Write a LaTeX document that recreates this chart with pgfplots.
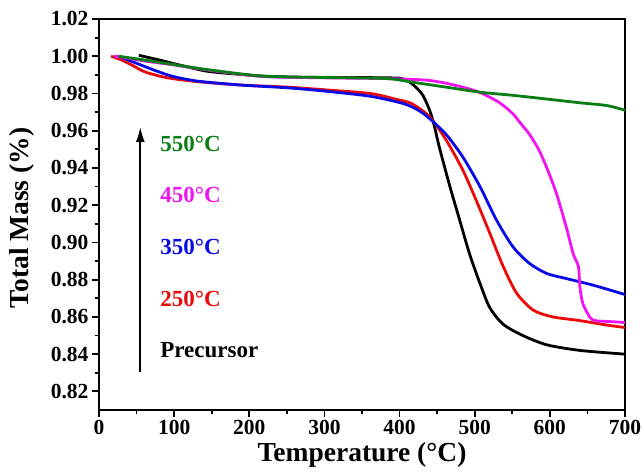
\documentclass[border=0pt]{standalone}
\usepackage{fontspec}
\setmainfont{Liberation Serif}
\usepackage{pgfplots}
\pgfplotsset{compat=1.18}
\usetikzlibrary{arrows.meta}

\definecolor{tgagreen}{RGB}{10,125,20}
\definecolor{tgamag}{RGB}{240,20,240}
\definecolor{tgablue}{RGB}{10,10,230}
\definecolor{tgared}{RGB}{235,10,10}

\begin{document}
\begin{tikzpicture}
\begin{axis}[
  scale only axis,
  width=526pt, height=391pt,
  xmin=0, xmax=700,
  ymin=0.81, ymax=1.02,
  xtick={0,100,...,700},
  ytick={0.82,0.84,...,1.021},
  minor x tick num=1,
  minor y tick num=1,
  tick align=outside,
  xtick pos=left, ytick pos=left,
  major tick length=7pt,
  minor tick length=4pt,
  every tick/.style={black, line width=1.8pt},
  axis line style={line width=2.2pt},
  /pgf/number format/assume math mode=true,
  ticklabel style={font=\fontsize{21.5}{21.5}\selectfont\bfseries},
  yticklabel style={/pgf/number format/.cd, fixed, fixed zerofill, precision=2},
  xticklabel style={/pgf/number format/.cd, fixed, precision=0},
  xlabel={Temperature (°C)},
  ylabel={Total Mass (\%)},
  label style={font=\fontsize{27.5}{27.5}\selectfont\bfseries},
  xlabel style={at={(axis description cs:0.5,-0.1151)}, anchor=center},
  ylabel style={at={(axis description cs:-0.1464,0.491)}, anchor=center},
  every axis plot/.append style={line width=2.8pt, no markers, smooth, tension=0.45},
  clip=false,
]
% Precursor
\addplot[black] coordinates {
  (53,1.0005) (80,0.998) (110,0.995) (143,0.992) (180,0.9905) (219,0.9893)
  (260,0.9888) (300,0.9886) (340,0.9886) (383,0.9884) (400,0.9882) (410,0.987)
  (420,0.984) (431,0.979) (440,0.971) (446,0.963) (453,0.951) (467,0.930)
  (480,0.912) (493,0.894) (507,0.878) (520,0.865) (538,0.856) (564,0.850)
  (596,0.845) (640,0.842) (700,0.840)};
% 250 C
\addplot[tgared] coordinates {
  (16,1.000) (30,0.998) (45,0.995) (61,0.9916) (90,0.9885) (132,0.9863)
  (190,0.9845) (252,0.9834) (300,0.982) (361,0.980) (394,0.977) (416,0.9746)
  (440,0.9675) (462,0.955) (484,0.939) (502,0.9226) (520,0.905) (538,0.887)
  (556,0.8726) (578,0.8636) (604,0.860) (640,0.858) (676,0.8556) (700,0.8543)};
% 350 C
\addplot[tgablue] coordinates {
  (26,1.000) (45,0.997) (77,0.992) (100,0.989) (132,0.9866) (190,0.9845)
  (252,0.983) (300,0.9813) (361,0.9785) (405,0.9746) (425,0.971) (440,0.9665)
  (462,0.958) (484,0.946) (507,0.930) (529,0.912) (551,0.8976) (573,0.8887)
  (596,0.8833) (622,0.8806) (658,0.877) (700,0.872)};
% 450 C
\addplot[tgamag] coordinates {
  (20,1.000) (30,0.9995) (60,0.9975) (100,0.9953) (150,0.9923) (219,0.9891)
  (300,0.9884) (383,0.988) (420,0.9875) (440,0.987) (462,0.9855) (484,0.9834)
  (504,0.981) (520,0.978) (535,0.9745) (551,0.969) (563,0.963) (573,0.958)
  (585,0.950) (596,0.940) (609,0.926) (622,0.908) (631,0.894) (638,0.887)
  (640,0.876) (644,0.867) (653,0.860) (660,0.858) (680,0.8575) (700,0.857)};
% 550 C
\addplot[tgagreen] coordinates {
  (26,1.000) (60,0.998) (100,0.9955) (150,0.9925) (219,0.9893) (300,0.9886)
  (383,0.988) (418,0.986) (462,0.9834) (507,0.9807) (551,0.979) (596,0.977)
  (640,0.975) (676,0.9735) (700,0.971)};

\draw[line width=1.8pt, -{Latex[length=15pt,width=9pt]}]
  (axis cs:55,0.8306) -- (axis cs:55,0.962);
\begin{scope}[every node/.style={anchor=west, font=\fontsize{23}{23}\selectfont\bfseries}]
\node[text=tgagreen] at (axis cs:77,0.953) {550°C};
\node[text=tgamag]   at (axis cs:77,0.9255) {450°C};
\node[text=tgablue]  at (axis cs:77,0.8977) {350°C};
\node[text=tgared]   at (axis cs:77,0.8696) {250°C};
\node[text=black]    at (axis cs:77,0.842) {Precursor};
\end{scope}
\end{axis}
\pgfresetboundingbox
\path (-99pt,-61pt) rectangle (545pt,410pt);
\end{tikzpicture}
\end{document}
